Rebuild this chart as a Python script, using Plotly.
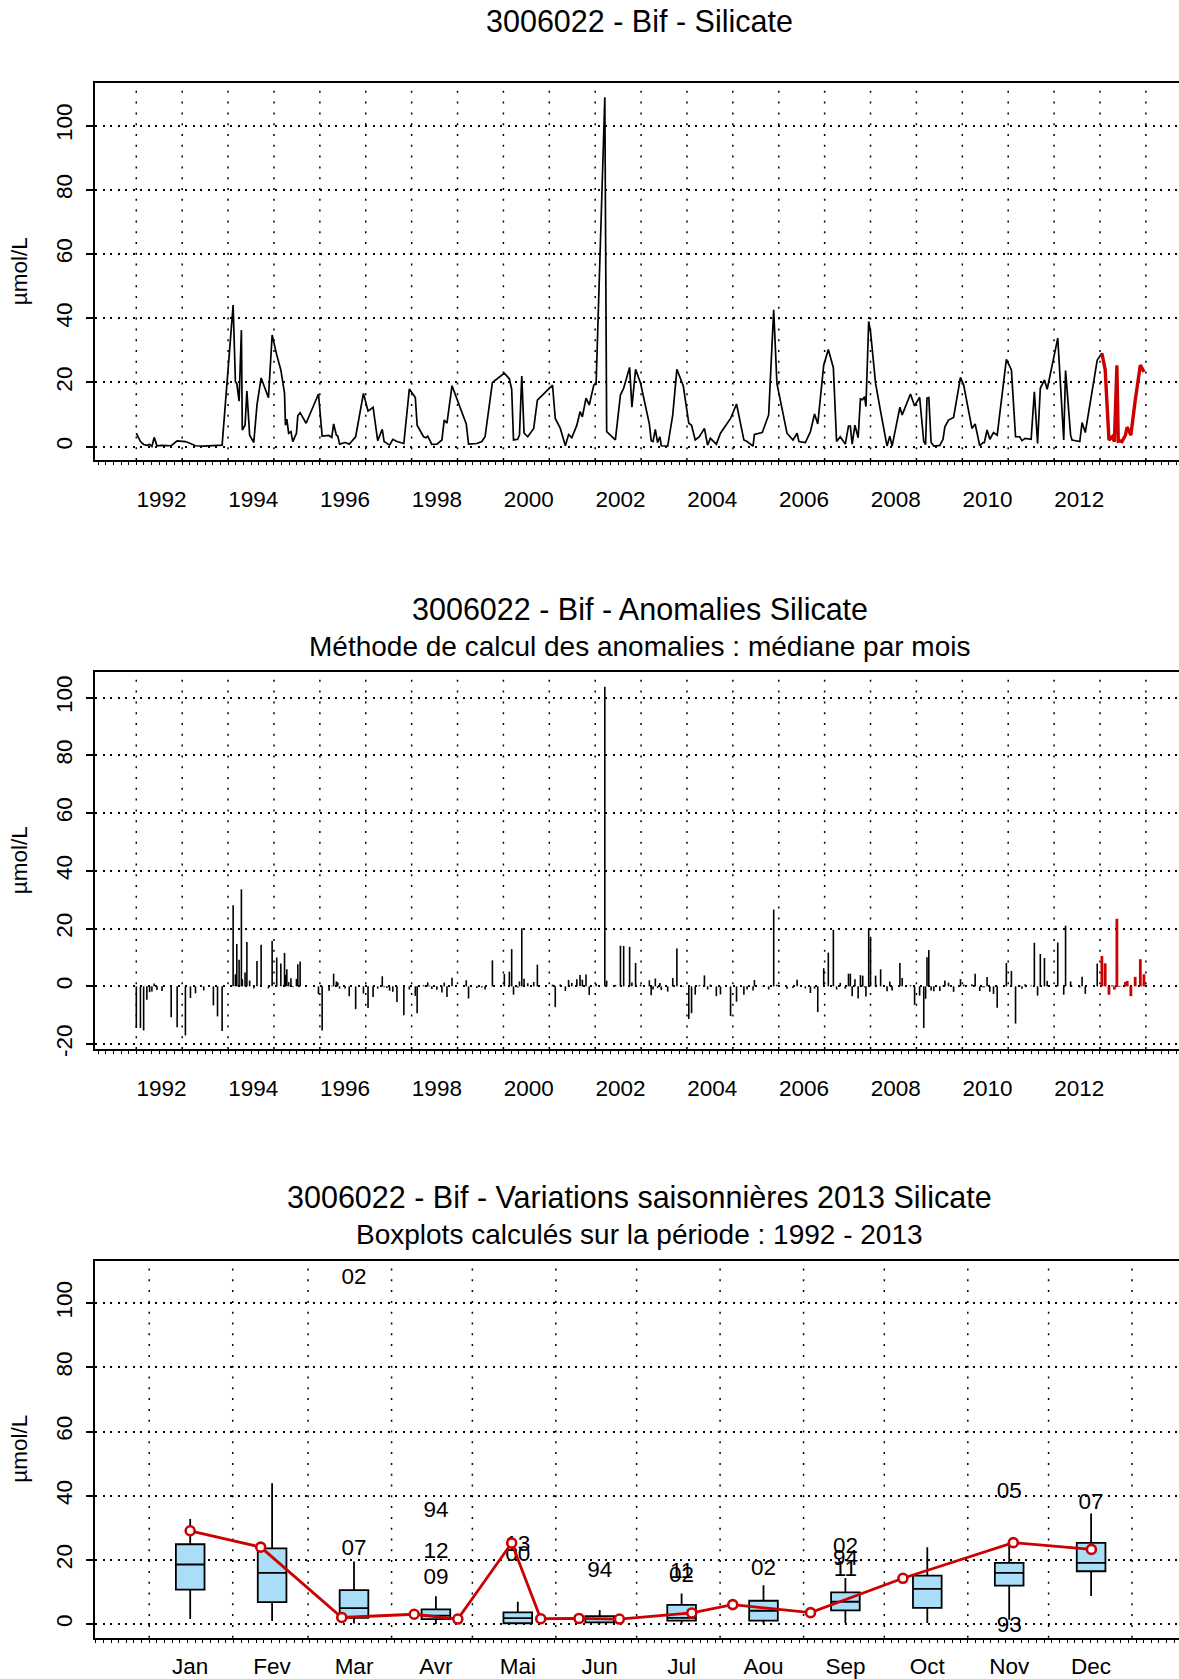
import plotly.graph_objects as go

FONT = "Liberation Sans, Arial, Helvetica, sans-serif"
RED = "#CC0000"
BOXFILL = "#AADDF8"

# ---------------- data: Silicate time series (decimal year, µmol/L), 1992-2012 ----------------
years = [
    1992.00, 1992.09, 1992.16, 1992.23, 1992.29, 1992.34, 1992.39, 1992.45, 1992.56, 1992.76,
    1992.89, 1993.07, 1993.18, 1993.29, 1993.47, 1993.68, 1993.77, 1993.87, 1994.11, 1994.16,
    1994.19, 1994.24, 1994.29, 1994.31, 1994.37, 1994.41, 1994.47, 1994.56, 1994.63, 1994.72,
    1994.88, 1994.96, 1995.06, 1995.15, 1995.23, 1995.25, 1995.28, 1995.32, 1995.37, 1995.41,
    1995.49, 1995.52, 1995.57, 1995.70, 1995.97, 1996.05, 1996.20, 1996.26, 1996.30, 1996.36,
    1996.39, 1996.43, 1996.55, 1996.64, 1996.78, 1996.95, 1997.05, 1997.16, 1997.26, 1997.36,
    1997.40, 1997.46, 1997.52, 1997.59, 1997.68, 1997.83, 1997.95, 1998.08, 1998.12, 1998.26,
    1998.31, 1998.35, 1998.39, 1998.44, 1998.55, 1998.66, 1998.71, 1998.77, 1998.88, 1999.19,
    1999.24, 1999.42, 1999.53, 1999.60, 1999.76, 2000.02, 2000.13, 2000.18, 2000.22, 2000.31,
    2000.35, 2000.40, 2000.45, 2000.53, 2000.66, 2000.74, 2001.07, 2001.13, 2001.24, 2001.35,
    2001.42, 2001.49, 2001.60, 2001.67, 2001.72, 2001.80, 2001.87, 2001.97, 2002.02, 2002.21,
    2002.25, 2002.44, 2002.55, 2002.62, 2002.75, 2002.80, 2002.88, 2002.99, 2003.18, 2003.22,
    2003.26, 2003.31, 2003.36, 2003.41, 2003.44, 2003.58, 2003.69, 2003.78, 2003.92, 2004.04,
    2004.10, 2004.18, 2004.27, 2004.38, 2004.45, 2004.51, 2004.64, 2004.73, 2004.95, 2005.08,
    2005.24, 2005.31, 2005.44, 2005.47, 2005.64, 2005.78, 2005.89, 2005.96, 2006.18, 2006.31,
    2006.40, 2006.44, 2006.58, 2006.69, 2006.78, 2006.85, 2006.98, 2007.08, 2007.19, 2007.26,
    2007.34, 2007.45, 2007.52, 2007.56, 2007.60, 2007.66, 2007.73, 2007.78, 2007.83, 2007.87,
    2007.90, 2007.96, 2008.00, 2008.11, 2008.22, 2008.36, 2008.42, 2008.47, 2008.64, 2008.69,
    2008.87, 2008.96, 2009.07, 2009.16, 2009.20, 2009.23, 2009.27, 2009.32, 2009.38, 2009.51,
    2009.58, 2009.62, 2009.70, 2009.81, 2009.96, 2010.03, 2010.21, 2010.28, 2010.38, 2010.45,
    2010.48, 2010.54, 2010.60, 2010.68, 2010.76, 2010.96, 2011.07, 2011.16, 2011.25, 2011.30,
    2011.37, 2011.50, 2011.57, 2011.64, 2011.70, 2011.79, 2011.85, 2012.08, 2012.21, 2012.25,
    2012.36, 2012.39, 2012.56, 2012.61, 2012.68, 2012.94,
]
values = [
    4.2, 1.6, 0.7, 0.4, 0.7, 0.1, 2.9, 0.3, 0.4, 0.3,
    1.8, 1.6, 1.0, 0.3, 0.2, 0.4, 0.6, 0.5, 44.1, 20.2,
    19.7, 14.2, 36.3, 5.2, 6.7, 17.3, 3.6, 1.3, 13.0, 21.4,
    15.3, 34.8, 28.6, 23.9, 16.6, 6.7, 8.6, 4.2, 4.7, 1.6,
    4.2, 9.7, 10.6, 7.3, 16.4, 3.3, 3.5, 2.9, 7.1, 3.6,
    3.3, 0.8, 1.3, 0.8, 3.1, 16.6, 11.1, 12.3, 1.9, 5.4,
    1.6, 1.0, 0.5, 2.3, 1.6, 1.0, 18.0, 15.3, 6.7, 3.1,
    2.8, 3.3, 2.1, 0.7, 0.8, 2.1, 8.3, 7.3, 19.0, 7.1,
    0.8, 1.0, 1.6, 3.1, 20.0, 22.9, 21.1, 17.9, 2.1, 2.3,
    3.6, 22.0, 4.2, 3.1, 5.7, 14.5, 19.2, 8.8, 5.7, 0.3,
    3.8, 2.8, 6.7, 10.9, 9.3, 15.1, 13.0, 19.2, 19.5, 108.8,
    4.7, 2.1, 16.1, 18.2, 24.7, 12.3, 24.1, 19.7, 7.1, 1.9,
    1.6, 5.4, 1.3, 3.1, 0.3, 0.2, 9.9, 24.1, 18.9, 7.3,
    6.7, 2.1, 3.1, 5.7, 0.5, 2.6, 0.8, 4.2, 8.8, 13.3,
    2.1, 1.6, 0.2, 3.8, 4.4, 9.9, 42.6, 19.7, 4.2, 2.1,
    4.2, 1.6, 1.3, 4.7, 10.2, 7.1, 25.4, 30.3, 24.6, 1.6,
    3.1, 0.8, 6.4, 6.4, 0.8, 6.7, 2.8, 14.9, 14.7, 15.6,
    12.5, 39.0, 35.8, 19.7, 10.9, 0.2, 3.3, 0.2, 12.3, 9.9,
    16.4, 12.7, 15.4, 1.6, 0.7, 15.1, 15.3, 1.3, 0.2, 0.4,
    2.3, 6.2, 8.3, 9.1, 21.6, 19.2, 5.7, 7.1, 0.3, 1.3,
    1.3, 5.2, 2.3, 4.4, 3.6, 27.2, 23.9, 3.1, 3.1, 1.9,
    2.6, 2.3, 17.1, 1.0, 18.2, 20.8, 17.9, 33.8, 2.1, 23.7,
    3.6, 2.1, 1.6, 7.5, 4.4, 27.0,
]

# 2013 samples (day of year, µmol/L) - drawn in red
doy_2013 = [15.2, 41.4, 71.5, 98.4, 114.6, 134.6, 145.4, 159.6, 174.6, 201.5, 216.7, 245.6, 279.9, 320.9, 349.9]
vals_2013 = [29.1, 24.0, 2.1, 3.1, 1.6, 25.3, 1.7, 1.8, 1.6, 3.5, 6.1, 3.6, 14.3, 25.4, 23.3]

# ---------------- boxplot statistics per month (1992-2013) ----------------
months = ["Jan", "Fev", "Mar", "Avr", "Mai", "Jun", "Jul", "Aou", "Sep", "Oct", "Nov", "Dec"]
month_days = [31, 28, 31, 30, 31, 30, 31, 31, 30, 31, 30, 31]
box_low = [1.6, 1.0, 0.2, 0.0, 0.0, 0.2, 0.2, 0.0, 0.4, 0.4, 1.4, 8.8]
box_q1 = [10.8, 6.9, 2.0, 1.6, 0.3, 0.6, 1.1, 1.1, 4.3, 5.1, 12.0, 16.5]
box_med = [18.6, 16.0, 5.0, 2.7, 1.9, 1.6, 2.0, 4.2, 7.0, 11.0, 16.0, 19.1]
box_q3 = [24.9, 23.6, 10.6, 4.6, 3.7, 2.5, 6.0, 7.3, 9.9, 15.1, 19.1, 25.3]
box_high = [32.8, 43.9, 19.5, 8.7, 7.0, 4.4, 9.6, 12.1, 14.4, 24.0, 25.6, 34.5]
outlier_month = [3, 3, 4, 4, 4, 5, 5, 6, 7, 7, 8, 9, 9, 9, 11, 11, 12]
outlier_value = [107.7, 23.3, 35.0, 22.5, 14.2, 24.6, 21.5, 16.3, 16.0, 14.8, 17.0, 23.9, 20.1, 16.8, 41.2, -0.6, 37.6]
outlier_label = ["02", "07", "94", "12", "09", "13", "00", "94", "11", "02", "02", "02", "94", "11", "05", "93", "07"]

year_ticks = list(range(1992, 2013, 2))
y_ticks = [0, 20, 40, 60, 80, 100]
y_ticks_anom = [-20, 0, 20, 40, 60, 80, 100]

# ---------------- derived positions ----------------
x13 = [2013 + d / 365.0 for d in doy_2013]
all_years = years + x13
all_values = values + vals_2013


def month_of(yr):
    return min(12, int((yr - int(yr)) * 12) + 1)


def month_of_doy(d):
    c = 0
    for i, n in enumerate(month_days):
        c += n
        if d < c:
            return i + 1
    return 12


# anomalies: value minus monthly median (chart method "médiane par mois")
anom_x, anom_y = [], []
for yr, v in zip(years, values):
    anom_x += [yr, yr, None]
    anom_y += [0, v - box_med[month_of(yr) - 1], None]
anom13_x, anom13_y = [], []
for xx, d, v in zip(x13, doy_2013, vals_2013):
    anom13_x += [xx, xx, None]
    anom13_y += [0, v - box_med[month_of_doy(d) - 1], None]

month_len = 365.0 / 12
cum = [0]
for n in month_days:
    cum.append(cum[-1] + n)
month_bounds = [0.5 + c / month_len for c in cum]
x13_box = [0.5 + d / month_len for d in doy_2013]

fig = go.Figure()

# panel 1
fig.add_trace(go.Scatter(x=all_years, y=all_values, mode="lines",
                         line=dict(color="black", width=1.7), xaxis="x", yaxis="y"))
fig.add_trace(go.Scatter(x=x13, y=vals_2013, mode="lines",
                         line=dict(color=RED, width=3.4), xaxis="x", yaxis="y"))
# panel 2
fig.add_trace(go.Scatter(x=anom_x, y=anom_y, mode="lines",
                         line=dict(color="black", width=1.6), xaxis="x2", yaxis="y2"))
fig.add_trace(go.Scatter(x=anom13_x, y=anom13_y, mode="lines",
                         line=dict(color=RED, width=2.8), xaxis="x2", yaxis="y2"))
# panel 3
fig.add_trace(go.Box(x=list(range(1, 13)), q1=box_q1, median=box_med, q3=box_q3,
                     lowerfence=box_low, upperfence=box_high, width=0.35,
                     fillcolor=BOXFILL, line=dict(color="black", width=1.8),
                     whiskerwidth=0, boxpoints=False, xaxis="x3", yaxis="y3"))
fig.add_trace(go.Scatter(x=outlier_month, y=outlier_value, mode="text", text=outlier_label,
                         textfont=dict(family=FONT, size=22.5, color="black"),
                         textposition="middle center", xaxis="x3", yaxis="y3"))
fig.add_trace(go.Scatter(x=x13_box, y=vals_2013, mode="lines+markers",
                         line=dict(color=RED, width=2.8),
                         marker=dict(symbol="circle", size=9, color="white",
                                     line=dict(color=RED, width=2.6)),
                         xaxis="x3", yaxis="y3"))

H = 1679.0
dom1 = [1 - 460.0 / H, 1 - 83.3 / H]
dom2 = [1 - 1049.0 / H, 1 - 672.3 / H]
dom3 = [1 - 1637.7 / H, 1 - 1260.7 / H]

tickfont = dict(family=FONT, size=22.5, color="black")
HDOT = "2px,5.5px"
VDOT = "2px,8.8px"


def xax(rng, tickvals, ticktext, anchor, minor_dtick, minor_tick0, standoff):
    return dict(range=rng, domain=[0, 1], anchor=anchor, tickmode="array",
                tickvals=tickvals, ticktext=ticktext, ticks="", showgrid=False,
                zeroline=False, showline=True, linecolor="black", linewidth=1.8,
                mirror=True, tickfont=tickfont, ticklabelstandoff=standoff,
                automargin=False,
                minor=dict(ticks="outside", ticklen=3, tickwidth=1, tickcolor="black",
                           dtick=minor_dtick, tick0=minor_tick0, showgrid=False))


def yax(rng, dom, tickvals, anchor):
    return dict(range=rng, domain=dom, anchor=anchor, tickmode="array", tickvals=tickvals,
                ticktext=[str(v) for v in tickvals],
                ticks="outside", ticklen=7, tickwidth=1.5, tickcolor="black",
                tickangle=-90, tickfont=tickfont, ticklabelstandoff=5, automargin=False,
                showgrid=True, gridcolor="black",
                gridwidth=1.5, griddash=HDOT, zeroline=False, showline=True,
                linecolor="black", linewidth=1.8, mirror=False)


yr_lbl_pos = [y + 0.55 for y in year_ticks]
yr_lbl = [str(y) for y in year_ticks]

fig.update_layout(
    width=1179, height=1679,
    margin=dict(l=95, r=0, t=0, b=0, pad=0, autoexpand=False),
    paper_bgcolor="white", plot_bgcolor="white",
    showlegend=False,
    font=dict(family=FONT, color="black"),
    xaxis=xax([1991.100, 2014.722], yr_lbl_pos, yr_lbl, "y", 1 / 6.0, 1992, 18),
    yaxis=yax([-4.14, 113.17], dom1, y_ticks, "x"),
    xaxis2=xax([1991.100, 2014.722], yr_lbl_pos, yr_lbl, "y2", 1 / 6.0, 1992, 18),
    yaxis2=yax([-21.7, 108.8], dom2, y_ticks_anom, "x2"),
    xaxis3=xax([-0.1624, 13.0733], list(range(1, 13)), months, "y3", 0.0934, 0.5, 7),
    yaxis3=yax([-4.2, 113.2], dom3, y_ticks, "x3"),
)

shapes = []
for yr in range(1992, 2015):
    for xr, yr_ref in (("x", "y domain"), ("x2", "y2 domain")):
        shapes.append(dict(type="line", xref=xr, yref=yr_ref, x0=yr, x1=yr, y0=0, y1=1,
                           line=dict(color="black", width=1.5, dash=VDOT), layer="below"))
for b in month_bounds:
    shapes.append(dict(type="line", xref="x3", yref="y3 domain", x0=b, x1=b, y0=0, y1=1,
                       line=dict(color="black", width=1.5, dash=VDOT), layer="below"))
fig.update_layout(shapes=shapes)

XC = (639.7 - 95) / 1084.0


def ann(text, ypx, size):
    return dict(text=text, x=XC, y=1 - ypx / H, xref="paper", yref="paper",
                xanchor="center", yanchor="middle", showarrow=False,
                font=dict(family=FONT, size=size, color="black"))


def ylab(ypx):
    return dict(text="µmol/L", x=(19.5 - 95) / 1084.0, y=1 - ypx / H, xref="paper", yref="paper",
                xanchor="center", yanchor="middle", textangle=-90, showarrow=False,
                font=dict(family=FONT, size=22.5, color="black"))


fig.update_layout(annotations=[
    ann("3006022 - Bif - Silicate", 20.8, 30.5),
    ann("3006022 - Bif - Anomalies Silicate", 608.7, 30.5),
    ann("Méthode de calcul des anomalies : médiane par mois", 646.4, 28),
    ann("3006022 - Bif - Variations saisonnières 2013 Silicate", 1197.4, 30.5),
    ann("Boxplots calculés sur la période : 1992 - 2013", 1234.5, 28),
    ylab(271.65), ylab(860.65), ylab(1449.2),
])

fig.write_html(
    "out.html",
    config={"displayModeBar": False},
    post_script=(
        "var gd=document.getElementById('{plot_id}');"
        "gd.style.position='fixed';gd.style.left='0px';gd.style.top='0px';"
        "document.documentElement.style.margin='0px';"
        "document.documentElement.style.overflow='hidden';"
        "document.body.style.margin='0px';document.body.style.padding='0px';"
        "document.body.style.overflow='hidden';"
    ),
)
